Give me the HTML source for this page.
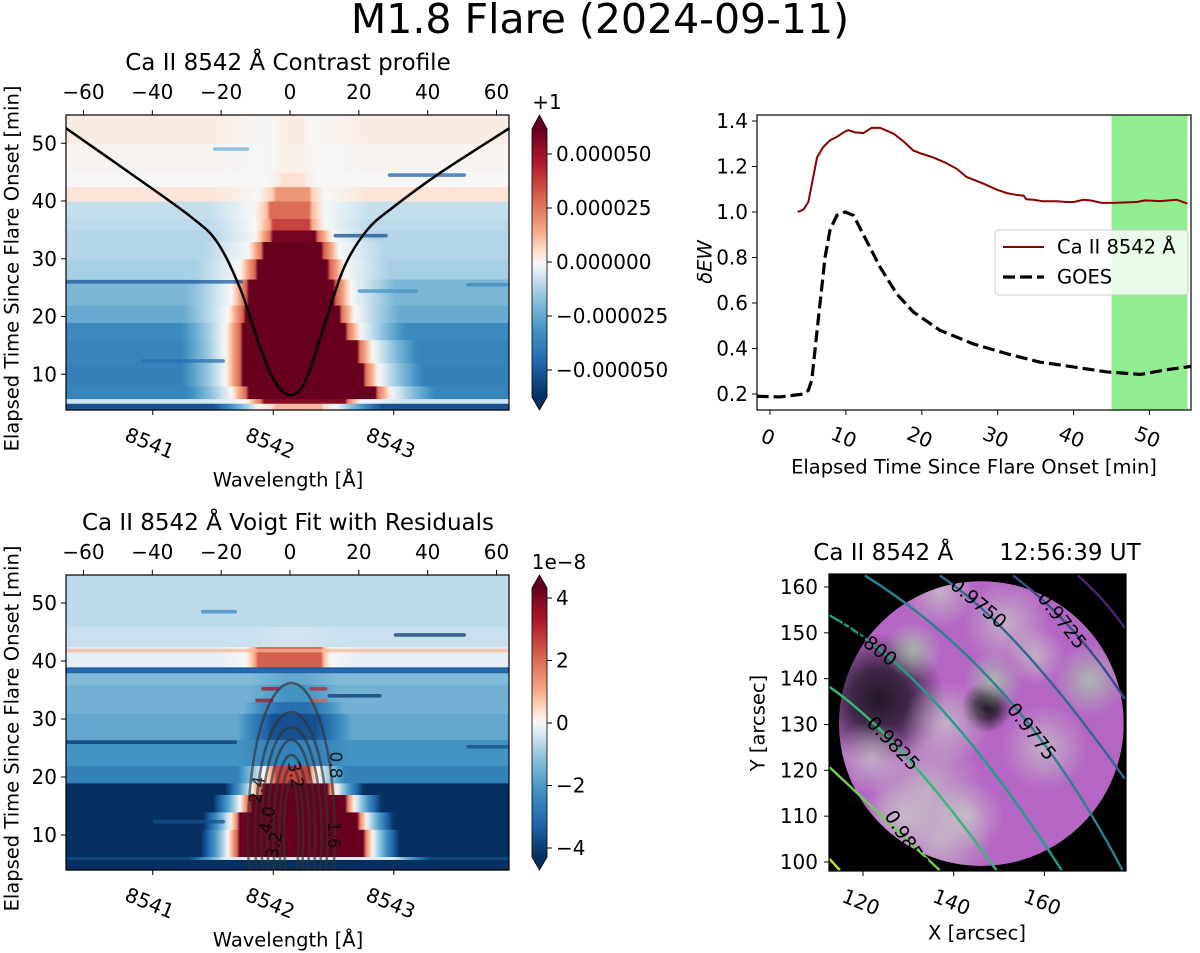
<!DOCTYPE html>
<html><head><meta charset="utf-8"><style>
html,body{margin:0;padding:0;background:#fff;overflow:hidden;width:1200px;height:953px;}
#wrap{position:relative;width:1200px;height:953px;overflow:hidden;}
svg{position:absolute;left:0;top:0;}
text{font-family:"DejaVu Sans","Liberation Sans",sans-serif;fill:#000;}
</style></head><body>
<div id="wrap">
<svg id="s" width="1200" height="953" xmlns="http://www.w3.org/2000/svg"></svg>
</div>
<script>
// ---------- DATA ----------
const caTime=[3.65,4.4,5.05,5.7,6.2,7.0,7.9,8.8,9.7,10.3,11.2,12.3,13.4,14.5,16.3,17.6,18.9,20,21.5,23.1,24.6,25.9,26.8,28.1,29.9,31.2,32.5,33.4,33.8,34.7,36,37.8,39.1,40,41.3,42.2,43.7,45.3,48.3,49.4,51.4,53.6,55];
const caVal=[1.0,1.01,1.044,1.154,1.24,1.285,1.315,1.33,1.35,1.36,1.35,1.347,1.37,1.37,1.344,1.31,1.27,1.256,1.24,1.217,1.19,1.154,1.142,1.125,1.098,1.083,1.075,1.072,1.056,1.054,1.047,1.047,1.044,1.044,1.054,1.051,1.04,1.04,1.044,1.051,1.048,1.054,1.037];
const goesTime=[-1.76,1.3,4.4,5.05,5.5,6.4,7.25,7.9,8.8,9.9,11,12.7,14.5,16.7,18.9,22.4,26.8,31.2,35.6,40,44.4,48.8,52.3,56.5];
const goesVal=[0.19,0.187,0.2,0.216,0.26,0.54,0.80,0.92,0.985,1.0,0.985,0.875,0.758,0.64,0.56,0.48,0.42,0.377,0.34,0.319,0.297,0.286,0.307,0.326];
const spanStart=45, spanEnd=55;
const trTicksX=[0,10,20,30,40,50];
const trTicksY=[0.2,0.4,0.6,0.8,1.0,1.2,1.4];
const profWave=[8540.28,8540.8,8541.32,8541.54,8541.73,8541.89,8542.02,8542.15,8542.27,8542.43,8542.59,8542.78,8543.0,8543.38,8543.96];
const profTime=[52.6,45.0,37.2,32.7,24.6,14.7,8.5,6.4,9.0,18.9,28.6,35.0,39.0,44.8,52.6];
const minuteTicks=[-60,-40,-20,0,20,40,60];
const waveTicks=[8541,8542,8543];
const timeTicks=[10,20,30,40,50];
const cb1Ticks=[0.000050,0.000025,0,-0.000025,-0.000050];
const cb1Labels=["0.000050","0.000025","0.000000","\u22120.000025","\u22120.000050"];
const cb2Ticks=[4,2,0,-2,-4];
const cb2Labels=["4","2","0","\u22122","\u22124"];
const bandT0_1=[3.8,5.0,5.8,8,12,16,19,22,26.5,30,33,35,37,40,42.5,45,50];
const bandT1_1=[5.0,5.8,8,12,16,19,22,26.5,30,33,35,37,40,42.5,45,50,55.5];
const bandBg_1=[-0.85,-0.1,-0.58,-0.6,-0.58,-0.55,-0.38,-0.32,-0.2,-0.17,-0.17,-0.15,-0.13,0.07,0.0,0.01,0.04];
const bandL_1=[8542.0,8541.9,8541.78,8541.73,8541.73,8541.73,8541.75,8541.78,8541.85,8541.92,8541.98,8541.98,8541.97,8542.0,8542.05,8542.05,8542.05];
const bandR_1=[8542.4,8542.6,8542.85,8542.75,8542.7,8542.6,8542.55,8542.52,8542.47,8542.42,8542.36,8542.3,8542.3,8542.3,8542.25,8542.25,8542.25];
const bandV_1=[0.2,0.9,1,1,1,1,1,1,1,1,0.95,0.6,0.45,0.3,0.08,0.03,0.04];
const stripeT_1=[26,25.5,34,44.5,12.3,24.4,49];
const stripeW0_1=[8540.28,8543.6,8542.5,8542.95,8540.9,8542.7,8541.5];
const stripeW1_1=[8541.75,8543.96,8542.95,8543.6,8541.6,8543.2,8541.8];
const stripeV_1=[-0.8,-0.55,-0.85,-0.75,-0.7,-0.5,-0.35];
const bandT0_2=[3.8,5.8,6.3,11,14,17,19,22,26.5,31,33,36,38,39,42.5,46];
const bandT1_2=[5.8,6.3,11,14,17,19,22,26.5,31,33,36,38,39,42.5,46,55.5];
const bandBg_2=[-1,-0.9,-1,-1,-1,-1,-0.6,-0.5,-0.4,-0.35,-0.35,-0.3,-0.8,-0.05,-0.12,-0.15];
const bandL_2=[8542.1,8541.6,8541.7,8541.72,8541.8,8541.9,8542.0,8542.0,8542.0,8542.05,8542.1,8542.1,8542.1,8541.85,8542.1,8542.1];
const bandR_2=[8542.2,8543.0,8542.75,8542.7,8542.6,8542.45,8542.3,8542.35,8542.35,8542.3,8542.25,8542.25,8542.25,8542.4,8542.25,8542.25];
const bandV_2=[-1,-0.05,1,1,1,1,0.6,-0.6,-0.85,-0.7,-0.5,-0.4,-0.8,0.5,-0.1,-0.15];
const stripeT_2=[26,25.2,34,44.5,12.3,41.8,38.3,48.5,33.2,35.2,35.2,33.2];
const stripeW0_2=[8540.28,8543.6,8542.45,8543.0,8541.0,8540.28,8540.28,8541.4,8541.85,8541.9,8542.3,8542.3];
const stripeW1_2=[8541.7,8543.96,8542.9,8543.6,8541.6,8543.96,8543.96,8541.7,8542.0,8542.05,8542.45,8542.45];
const stripeV_2=[-0.95,-0.85,-0.95,-0.95,-0.85,0.2,-0.7,-0.55,0.8,0.8,0.7,0.5];
const ctrLevels=["0.8","1.6","2.4","3.2","4.0","4.8","5.6"];
const ctrHalfWidth=[0.36,0.30,0.25,0.20,0.15,0.10,0.06];
const ctrTop=[36.2,31.2,28.6,26.4,23.8,21.7,19.5];
const ctrCenterW=8542.15, ctrCenterT=10;
const diskX=146.1, diskY=130.2, diskR=31.3;
const patchX=[123.7,147.2,131,148.7,137,138.4,134,137,151.6,170,122,160,143,128,158];
const patchY=[135.6,133.8,146.2,139.6,159,130.2,115.6,104.7,152,139.6,122.9,125,110,110,145];
const patchR=[9,3.5,4,4,5,6,8,7,6,5,5,6,5,5,4];
const patchKind=["dark","dark","green","green","bright","bright","bright","bright","bright","green","bright","bright","bright","bright","bright"];
const cLevels=["0.9700","0.9725","0.9750","0.9775","0.9800","0.9825","0.9850","0.9875"];
const cColors=["#482475","#3e4c8a","#31688e","#26838f","#1f9e89","#35b779","#6ece58","#c8e020"];
const cStartX=[167.4,153.1,136.9,120.4,112.6,112.6,112.6,112.6];
const cStartY=[162.5,162.5,162.5,162.5,153.8,138.2,120.7,100.7];
const cMidX=[172.9,166.3,155.3,151.6,136.9,129.6,124.4,113.8];
const cMidY=[157.1,150.5,146.2,136.0,133.8,122.9,109.8,99.4];
const cEndX=[177.7,177.7,177.7,177.2,163.8,149.4,136.9,114.9];
const cEndY=[151.1,135.6,118.2,98.2,98.2,98.2,98.2,98.2];
const cLabX=[null,163.8,145.4,157.1,121.1,126.6,129.6,null];
const cLabY=[null,152.7,156.4,128.4,148,125.8,104.7,null];
const cLabA=[0,52,40,52,38,46,58,0];
const imgTicksX=[120,140,160];
const imgTicksY=[100,110,120,130,140,150,160];

// ---------- scales ----------
const xm=v=>290+v*3.442;
const xw=w=>66+(w-8540.28)*120.5;
const yt1=t=>432-t*5.775;
const yt2=t=>893-t*5.8;
const yc1=v=>262-v/0.000025*54;
const yc2=v=>723-v*31.25;
const xr=t=>770+t*7.59;
const yr=v=>394-(v-0.2)*227.5;
const xa=x=>863+(x-120)*4.535;
const ya=y=>587+(160-y)*4.583;

const FT=20, FL=19.5, FTI=23;

const cmS=[-1,-0.75,-0.5,-0.25,-0.1,0,0.1,0.25,0.5,0.75,1];
const cmC=[[5,48,97],[33,102,172],[67,147,195],[146,197,222],[209,229,240],[247,247,247],[253,219,199],[244,165,130],[214,96,77],[178,24,43],[103,0,31]];
function cmap(v){v=Math.max(-1,Math.min(1,v));for(let i=0;i<cmS.length-1;i++){if(v<=cmS[i+1]){const f=(v-cmS[i])/(cmS[i+1]-cmS[i]);const c=cmC[i].map((q,k)=>Math.round(q+(cmC[i+1][k]-q)*f));return 'rgb('+c.join(',')+')';}}return 'rgb(103,0,31)';}

const NS='http://www.w3.org/2000/svg';
const svg=document.getElementById('s');
const defs=document.createElementNS(NS,'defs');svg.appendChild(defs);
function el(tag,attrs,parent){const e=document.createElementNS(NS,tag);for(const k in attrs)e.setAttribute(k,attrs[k]);(parent||svg).appendChild(e);return e;}
function txt(s,x,y,size,anchor,rot,parent){const e=el('text',{x:x,y:y,'font-size':size,'text-anchor':anchor||'middle','dominant-baseline':'central'},parent);if(rot)e.setAttribute('transform','rotate('+rot+' '+x+' '+y+')');e.textContent=s;return e;}
function line(x1,y1,x2,y2,parent){return el('line',{x1:x1,y1:y1,x2:x2,y2:y2,stroke:'#000','stroke-width':1},parent);}
let gidN=0;

function drawHeat(parent,yt,T0,T1,BG,CL,CR,CV,ST,SW0,SW1,SV,halo){
  for(let b=0;b<T0.length;b++){
    const id='hg'+(gidN++);
    const lg=el('linearGradient',{id:id,x1:0,y1:0,x2:1,y2:0},defs);
    for(let px=0;px<=443;px+=3){
      const w=8540.28+px/120.5;let v=BG[b];const L=CL[b],R=CR[b];
      if(w>=L&&w<=R){v=CV[b];}
      else{const d=w<L?L-w:w-R;if(d<halo){const f=d/halo;v=CV[b]>0?(f<0.25?CV[b]*(1-f/0.25)*0.5:BG[b]*((f-0.25)/0.75)):CV[b]+(BG[b]-CV[b])*f;}}
      el('stop',{offset:(px/443).toFixed(4),'stop-color':cmap(v)},lg);
    }
    const y0=Math.max(yt(T1[b]),parent.top), y1=Math.min(yt(T0[b]),parent.bottom);
    let r=el('rect',{x:66,y:y0,width:443,height:Math.max(0,y1-y0)+0.6,fill:'url(#'+id+')'},parent.g);
    
    
  }
  for(let s=0;s<ST.length;s++){
    let r=el('rect',{x:xw(SW0[s]),y:yt(ST[s])-1.8,width:xw(SW1[s])-xw(SW0[s]),height:3.6,rx:2,fill:cmap(SV[s]),'fill-opacity':0.75},parent.g);
    
    
  }
}

let title=txt('M1.8 Flare (2024-09-11)',600,19,41);



function heatAxes(T,B,yt,ttl,cbTop,yc,cbT,cbL,cbExtra,name){
  const g=el('g',{});
  
  
  const hg=el('g',{},g);
  let tt=txt(ttl,288,T-52,FTI,'middle',0,g);
  
  
  for(const v of minuteTicks){line(xm(v),T,xm(v),T-5,g);let e=txt(String(v).replace('-','\u2212'),xm(v),T-23,FT,'middle',0,g);}
  for(const w of waveTicks){line(xw(w),B,xw(w),B+5,g);let e=txt(String(w),xw(w)-3,B+33,FT,'middle',22,g);}
  for(const v of timeTicks){line(66,yt(v),61,yt(v),g);let e=txt(String(v),57,yt(v),FT,'end',0,g);}
  let xl=txt('Wavelength [Å]',288,B+70,FL,'middle',0,g);
  
  
  let yl=txt('Elapsed Time Since Flare Onset [min]',12,(T+B)/2+6,FL,'middle',-90,g);
  
  
  const cbB0=B-13;
  const gid='cbg'+(gidN++);
  const lg=el('linearGradient',{id:gid,x1:0,y1:1,x2:0,y2:0},defs);
  for(let i=0;i<cmS.length;i++){el('stop',{offset:(cmS[i]+1)/2,'stop-color':'rgb('+cmC[i].join(',')+')'},lg);}
  let cb=el('rect',{x:532,y:cbTop,width:15,height:cbB0-cbTop,fill:'url(#'+gid+')'},g);
  
  
  el('polygon',{points:'532,'+cbTop+' 547,'+cbTop+' 539.5,'+T,fill:'rgb(103,0,31)'},g);
  el('polygon',{points:'532,'+cbB0+' 547,'+cbB0+' 539.5,'+B,fill:'rgb(5,48,97)'},g);
  el('path',{d:'M532,'+cbTop+' L539.5,'+T+' L547,'+cbTop+' L547,'+cbB0+' L539.5,'+B+' L532,'+cbB0+' Z',fill:'none',stroke:'#000','stroke-width':0.8},g);
  for(let i=0;i<cbT.length;i++){const y=yc(cbT[i]);line(547,y,552,y,g);let e=txt(cbL[i],556,y,FT,'start',0,g);}
  let ex=txt(cbExtra,cbExtra==='+1'?547:559,T-13,FT,'middle',0,g);
  
  
  return {g:g,hg:hg,top:T,bottom:B};
}

// top-left
try{
const P1=heatAxes(115,410,yt1,'Ca II 8542 Å Contrast profile',129,yc1,cb1Ticks,cb1Labels,'+1','contrast-panel');
drawHeat({g:P1.hg,top:115,bottom:410},yt1,bandT0_1,bandT1_1,bandBg_1,bandL_1,bandR_1,bandV_1,stripeT_1,stripeW0_1,stripeW1_1,stripeV_1,0.5);
const P=profWave.map((w,i)=>[xw(w),yt1(profTime[i])]);
let d='M'+P[0][0]+','+P[0][1];
for(let i=0;i<P.length-1;i++){const p0=P[Math.max(0,i-1)],p1=P[i],p2=P[i+1],p3=P[Math.min(P.length-1,i+2)];
 d+=' C'+(p1[0]+(p2[0]-p0[0])/6)+','+(p1[1]+(p2[1]-p0[1])/6)+' '+(p2[0]-(p3[0]-p1[0])/6)+','+(p2[1]-(p3[1]-p1[1])/6)+' '+p2[0]+','+p2[1];}
let pl=el('path',{d:d,fill:'none',stroke:'#000','stroke-width':2.5},P1.g);


el('rect',{x:66,y:115,width:443,height:295,fill:'none',stroke:'#000','stroke-width':1.2},P1.g);
}catch(e){console.log(e);}

// bottom-left
try{
const P2=heatAxes(575,870,yt2,'Ca II 8542 Å Voigt Fit with Residuals',588,yc2,cb2Ticks,cb2Labels,'1e\u22128','residual-panel');
drawHeat({g:P2.hg,top:575,bottom:870},yt2,bandT0_2,bandT1_2,bandBg_2,bandL_2,bandR_2,bandV_2,stripeT_2,stripeW0_2,stripeW1_2,stripeV_2,0.3);
const cp=el('clipPath',{id:'clipBL'},defs);el('rect',{x:66,y:575,width:443,height:295},cp);
const cg=el('g',{'clip-path':'url(#clipBL)'},P2.g);
for(let i=0;i<ctrLevels.length;i++){
 const cx=xw(ctrCenterW),cy=yt2(ctrCenterT),rx=ctrHalfWidth[i]*120.5,ry=cy-yt2(ctrTop[i]);
 let e=el('ellipse',{cx:cx,cy:cy,rx:rx,ry:ry,fill:'none',stroke:'#333','stroke-opacity':0.65,'stroke-width':2.6},cg);
 
 
}
const labs=[["0.8",335,765,90],["2.4",258,790,-80],["1.6",333,835,90],["3.2",295,775,80],["4.0",268,820,-80],["3.2",275,845,-80]];
for(const L of labs){let e=txt(L[0],L[1],L[2],17,'middle',L[3],P2.g);e.setAttribute('fill','#333');e.setAttribute('fill-opacity','0.8');}
el('rect',{x:66,y:575,width:443,height:295,fill:'none',stroke:'#000','stroke-width':1.2},P2.g);
}catch(e){console.log(e);}

// top-right
try{
const g=el('g',{});


const cp=el('clipPath',{id:'clipTR'},defs);el('rect',{x:757,y:115,width:434,height:295},cp);
let sp=el('rect',{x:xr(spanStart),y:115,width:xr(spanEnd)-xr(spanStart),height:295,fill:'#90ee90'},g);


const cg=el('g',{'clip-path':'url(#clipTR)'},g);
let gl=el('polyline',{points:goesTime.map((x,i)=>xr(x)+','+yr(goesVal[i])).join(' '),fill:'none',stroke:'#000','stroke-width':3.2,'stroke-dasharray':'12,5'},cg);


let cl=el('polyline',{points:caTime.map((x,i)=>xr(x)+','+yr(caVal[i])).join(' '),fill:'none',stroke:'#8b0000','stroke-width':2},cg);


el('rect',{x:757,y:115,width:434,height:295,fill:'none',stroke:'#000','stroke-width':1.2},g);
for(const v of trTicksY){line(757,yr(v),752,yr(v),g);let e=txt(v.toFixed(1),748,yr(v),FT,'end',0,g);}
for(const v of trTicksX){line(xr(v),410,xr(v),415,g);let e=txt(String(v),xr(v)-2,437,FT,'middle',22,g);}
let xl=txt('Elapsed Time Since Flare Onset [min]',974,467,FL,'middle',0,g);


let yl=txt('δEW',705,262,FL,'middle',-90,g);
yl.setAttribute('font-style','italic');


const lgd=el('g',{},g);


el('rect',{x:995,y:230,width:193,height:65,rx:4,fill:'#fff','fill-opacity':0.8,stroke:'#ccc','stroke-width':1},lgd);
el('line',{x1:1003,y1:247,x2:1044,y2:247,stroke:'#8b0000','stroke-width':2},lgd);
el('line',{x1:1003,y1:277,x2:1044,y2:277,stroke:'#000','stroke-width':3.2,'stroke-dasharray':'12,5'},lgd);
let l1=txt('Ca II 8542 Å',1057,247,FL,'start',0,lgd);


let l2=txt('GOES',1057,277,FL,'start',0,lgd);


}catch(e){console.log(e);}

// bottom-right
try{
const g=el('g',{});


const cp=el('clipPath',{id:'clipBR'},defs);el('rect',{x:829,y:574,width:297,height:297},cp);
const ig=el('g',{'clip-path':'url(#clipBR)'},g);
el('rect',{x:829,y:574,width:297,height:297,fill:'#000'},ig);
const dcp=el('clipPath',{id:'clipDisk'},defs);el('circle',{cx:xa(diskX),cy:ya(diskY),r:diskR*4.55},dcp);
const dg=el('g',{'clip-path':'url(#clipDisk)'},ig);
let disk=el('circle',{cx:xa(diskX),cy:ya(diskY),r:diskR*4.55,fill:'#b565c4'},dg);


const kinds={dark:'#231828',green:'#a8d8a8',bright:'#c9cfc6'};
for(const k in kinds){const rg=el('radialGradient',{id:'rg'+k},defs);el('stop',{offset:0,'stop-color':kinds[k],'stop-opacity':k==='dark'?1:0.7},rg);el('stop',{offset:0.45,'stop-color':kinds[k],'stop-opacity':k==='dark'?0.8:0.4},rg);el('stop',{offset:1,'stop-color':kinds[k],'stop-opacity':0},rg);}
for(let p=0;p<patchX.length;p++){
 let c=el('circle',{cx:xa(patchX[p]),cy:ya(patchY[p]),r:patchR[p]*4.55*1.6,fill:'url(#rg'+patchKind[p]+')'},dg);
 
 
}
for(let i=0;i<cLevels.length;i++){
 const sx=xa(cStartX[i]),sy=ya(cStartY[i]),mx=xa(cMidX[i]),my=ya(cMidY[i]),ex=xa(cEndX[i]),ey=ya(cEndY[i]);
 const qx=2*mx-(sx+ex)/2,qy=2*my-(sy+ey)/2;
 let p=el('path',{d:'M'+sx+','+sy+' Q'+qx+','+qy+' '+ex+','+ey,fill:'none',stroke:cColors[i],'stroke-width':2.4},ig);
 
 
 if(cLabX[i]!==null){let e=txt(cLevels[i],xa(cLabX[i]),ya(cLabY[i]),19,'middle',cLabA[i],ig);e.setAttribute('fill',cColors[i]);}
}
el('rect',{x:829,y:574,width:297,height:297,fill:'none',stroke:'#000','stroke-width':1.2},g);
for(const v of imgTicksX){line(xa(v),871,xa(v),876,g);let e=txt(String(v),xa(v)-2,902,FT,'middle',22,g);}
for(const v of imgTicksY){line(829,ya(v),824,ya(v),g);let e=txt(String(v),818,ya(v),FT,'end',0,g);}
let tt=txt('Ca II 8542 Å\u2003\u200312:56:39 UT',977,553,FTI,'middle',0,g);


let xl=txt('X [arcsec]',977,933,FL,'middle',0,g);


let yl=txt('Y [arcsec]',758,723,FL,'middle',-90,g);


}catch(e){console.log(e);}
</script>
</body></html>
